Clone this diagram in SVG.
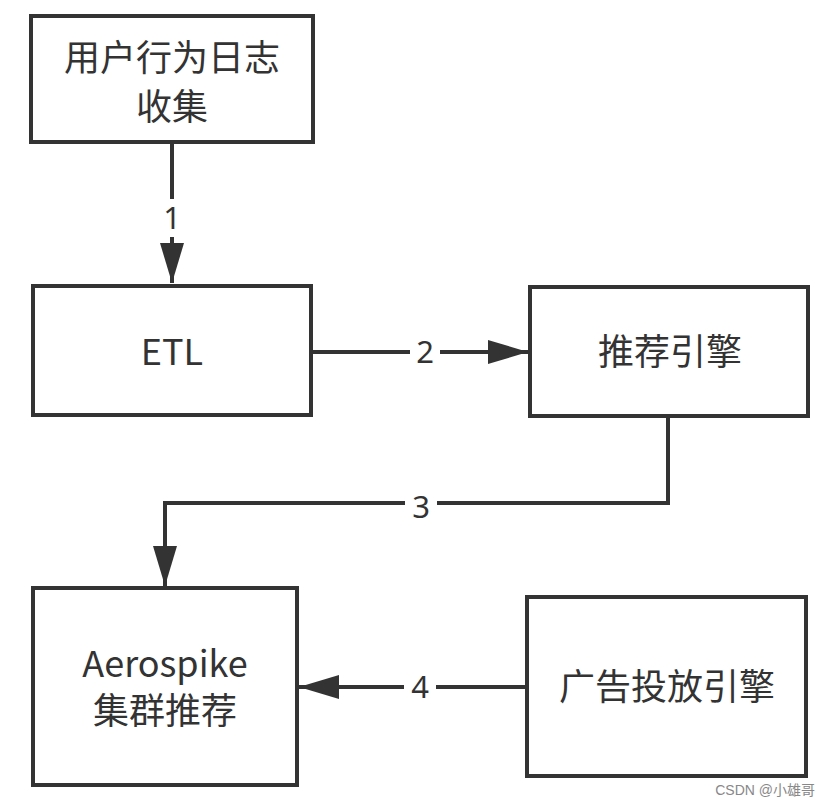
<svg xmlns="http://www.w3.org/2000/svg" width="830" height="804" viewBox="0 0 830 804">
<style>
.box{fill:#fff;stroke:#333;stroke-width:4}
.t{font-family:"Microsoft YaHei","Noto Sans CJK SC","Noto Sans",sans-serif;font-size:36px;fill:#333;text-anchor:middle}
.lbl{font-family:"Noto Sans","Noto Sans CJK SC",sans-serif;font-size:31px;fill:#333;text-anchor:middle}
.c{fill:none;stroke:#333;stroke-width:4}
</style>
<defs>
<marker id="ah" viewBox="0 0 40 24" refX="40" refY="12" markerWidth="40" markerHeight="24" markerUnits="userSpaceOnUse" orient="auto">
<path d="M0,0 L40,12 L0,24 Z" fill="#333"/>
</marker>
</defs>
<rect width="830" height="804" fill="#fff"/>
<g id="connectors">
<path class="c" d="M172,141 V283" marker-end="url(#ah)"/>
<rect x="160" y="199" width="24" height="38" fill="#fff"/>
<text class="lbl" x="172" y="229">1</text>
<path class="c" d="M311,352 H528" marker-end="url(#ah)"/>
<rect x="410" y="335" width="30" height="36" fill="#fff"/>
<text class="lbl" x="425" y="363">2</text>
<path class="c" d="M668,416 V503 H165 V586" marker-end="url(#ah)"/>
<rect x="405" y="488" width="32" height="36" fill="#fff"/>
<text class="lbl" x="421" y="518">3</text>
<path class="c" d="M527,687 H299" marker-end="url(#ah)"/>
<rect x="404" y="670" width="32" height="36" fill="#fff"/>
<text class="lbl" x="420" y="698">4</text>
</g>
<g id="node-log">
<rect class="box" x="31" y="16" width="282" height="126"/>
<text class="t" x="172" y="71" font-size="34">用户行为日志</text>
<text class="t" x="172" y="120" font-size="34">收集</text>
</g>
<g id="node-etl">
<rect class="box" x="33" y="286" width="278" height="129"/>
<text class="t" x="172" y="365">ETL</text>
</g>
<g id="node-rec">
<rect class="box" x="530" y="287" width="278" height="129"/>
<text class="t" x="670" y="365">推荐引擎</text>
</g>
<g id="node-aero">
<rect class="box" x="33" y="588" width="264" height="197"/>
<text class="t" x="165" y="677">Aerospike</text>
<text class="t" x="165" y="724">集群推荐</text>
</g>
<g id="node-ad">
<rect class="box" x="527" y="597" width="279" height="179"/>
<text class="t" x="667" y="700">广告投放引擎</text>
</g>
<text x="815" y="795" font-family="'Liberation Sans','Noto Sans CJK SC',sans-serif" font-size="14" fill="#888" text-anchor="end">CSDN @小雄哥</text>
</svg>
